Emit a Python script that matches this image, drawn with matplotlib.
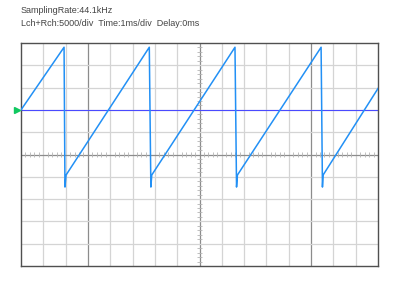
import numpy as np
import matplotlib
matplotlib.use("Agg")
import matplotlib.pyplot as plt

# Waveform vertices: time (ms) and amplitude (Lch+Rch units)
time_ms = [0.0, 1.93, 1.97, 2.02, 5.75, 5.82, 5.86, 9.59, 9.66, 9.70, 13.45, 13.51, 13.54, 16.0]
amplitude = [10000, 24050, -7300, -4600, 24050, -7300, -4600, 24050, -7300, -4600, 24050, -7300, -4600, 14800]
trigger_level = 10000
volts_per_div = 5000
header_line1 = "SamplingRate:44.1kHz"
header_line2 = "Lch+Rch:5000/div  Time:1ms/div  Delay:0ms"

fig = plt.figure(figsize=(4.0, 2.89), dpi=100)
ax = fig.add_axes([21/400, 23/289, 357/400, 223/289])
ax.set_xlim(0, 16)
ax.set_ylim(-5 * volts_per_div, 5 * volts_per_div)

light = "#d4d4d4"
dark = "#8c8c8c"
for k in range(1, 16):
    c = dark if k in (3, 8, 13) else light
    ax.axvline(k, color=c, lw=0.9, zorder=1)
for k in range(-4, 5):
    c = dark if k == 0 else light
    ax.axhline(k * volts_per_div, color=c, lw=0.9, zorder=1)

# minor ticks on center axes
tick_c = "#b4b4b4"
tx = [i * 0.2 for i in range(1, 80) if i % 5 != 0]
ax.vlines(tx, -0.09 * volts_per_div, 0.09 * volts_per_div, color=tick_c, lw=0.6, zorder=1)
ty = [i * 0.2 * volts_per_div for i in range(-24, 25) if i % 5 != 0]
ax.hlines(ty, 8 - 0.09, 8 + 0.09, color=tick_c, lw=0.6, zorder=1)

ax.axhline(trigger_level, color="#4a4aff", lw=0.8, zorder=2)
ax.plot(time_ms, amplitude, color="#2290f5", lw=1.1, zorder=3)

# trigger marker
ax.plot([-0.2], [trigger_level], marker=">", color="#10c860", markersize=5,
        clip_on=False, zorder=4)

ax.set_xticks([])
ax.set_yticks([])
for s in ax.spines.values():
    s.set_color("#505050")
    s.set_linewidth(1.0)

fig.text(21/400, 1 - 13.0/289, header_line1, fontsize=6.5, color="#444444",
         family="Liberation Sans")
fig.text(21/400, 1 - 26.0/289, header_line2, fontsize=6.5, color="#444444",
         family="Liberation Sans")

fig.savefig("out.png", dpi=100, facecolor="white")
